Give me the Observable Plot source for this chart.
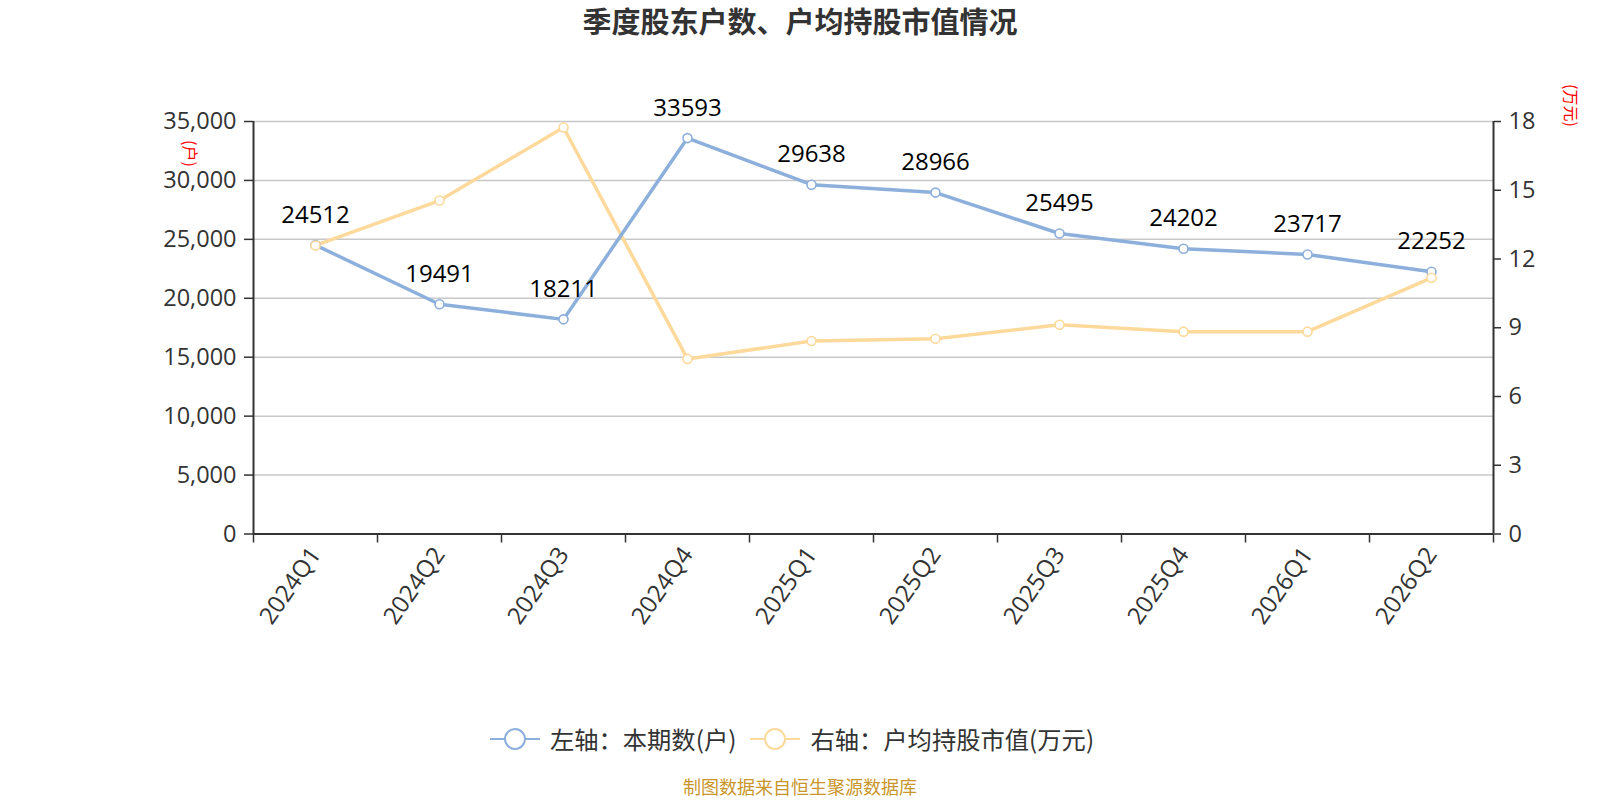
<!DOCTYPE html>
<html>
<head>
<meta charset="utf-8">
<script src="https://cdn.jsdelivr.net/npm/d3@7"></script>
<script src="https://cdn.jsdelivr.net/npm/@observablehq/plot@0.6"></script>
<style>
  html, body { margin: 0; padding: 0; background: #fff; }
  body { font-family: "Open Sans", "Noto Sans CJK SC", sans-serif; }
  #wrap { position: relative; width: 1600px; height: 800px; overflow: hidden; }
  #title { position: absolute; left: 0; width: 1600px; top: 1px; text-align: center;
           font-family: "Noto Sans CJK SC", sans-serif; font-weight: bold; font-size: 29px; color: #333; line-height: 38px; }
  #chart { position: absolute; left: 0; top: 0; }
  #legend { position: absolute; left: 0; width: 1600px; top: 721px; display: flex; justify-content: center;
            align-items: center; font-family: "Noto Sans CJK SC", sans-serif; font-size: 24.3px; color: #333; box-sizing: border-box; transform: translateX(-8px); }
  .item { display: flex; align-items: center; margin: 0 7px; }
  .item svg { margin-right: 10px; }
  #caption { position: absolute; left: 0; width: 1600px; top: 776px; text-align: center;
             font-family: "Noto Sans CJK SC", sans-serif; font-size: 18px; color: #c9962a; line-height: 20px; }
</style>
</head>
<body>
<div id="wrap">
  <div id="chart"></div>
  <div id="title"></div>
  <div id="legend"></div>
  <div id="caption"></div>
</div>
<script>
// ---- data ----
const titleText = "季度股东户数、户均持股市值情况";
const categories = ["2024Q1","2024Q2","2024Q3","2024Q4","2025Q1","2025Q2","2025Q3","2025Q4","2026Q1","2026Q2"];
const holders = [24512,19491,18211,33593,29638,28966,25495,24202,23717,22252];
const avgValue = [12.59,14.55,17.74,7.64,8.42,8.52,9.13,8.83,8.83,11.18];
const leftTicks = [0,5000,10000,15000,20000,25000,30000,35000];
const rightTicks = [0,3,6,9,12,15,18];
const seriesNames = ["左轴：本期数(户)","右轴：户均持股市值(万元)"];
const unitLeft = "(户)";
const unitRight = "(万元)";
const captionText = "制图数据来自恒生聚源数据库";

const blue = "#8dafdc";
const yellow = "#fdd99b";

const leftMax = leftTicks[leftTicks.length - 1];
const rightMax = rightTicks[rightTicks.length - 1];
const k = leftMax / rightMax;

const rows = categories.map((c, i) => ({i, cat: c, holders: holders[i], avg: avgValue[i]}));
const xDomain = [-0.5, categories.length - 0.5];
const boundaries = d3.range(categories.length + 1).map(j => j - 0.5);

const plot = Plot.plot({
  width: 1600,
  height: 660,
  marginTop: 121,
  marginBottom: 126.5,
  marginLeft: 253,
  marginRight: 107,
  style: {fontFamily: '"Open Sans", "Noto Sans CJK SC", sans-serif', background: "transparent"},
  x: {type: "linear", domain: xDomain, axis: null, label: null},
  y: {domain: [0, leftMax], axis: null, label: null},
  marks: [
    Plot.gridY(leftTicks, {stroke: "#c8c8c8", strokeOpacity: 1, strokeWidth: 1.5}),
    Plot.axisY(leftTicks, {anchor: "left", label: null, tickSize: 9, tickPadding: 8, tickFormat: d3.format(","),
      fontSize: 23.5, color: "#333", stroke: "#333", strokeWidth: 1.5}),
    Plot.axisY(rightTicks.map(v => v * k), {anchor: "right", label: null, tickSize: 7, tickPadding: 8,
      tickFormat: d => String(Math.round(d / k)), fontSize: 23.5, color: "#333", stroke: "#333", strokeWidth: 1.5}),
    Plot.axisX(boundaries, {anchor: "bottom", label: null, tickSize: 9, tickFormat: () => "", stroke: "#333", strokeWidth: 1.5}),
    Plot.axisX(d3.range(categories.length), {anchor: "bottom", label: null, tickSize: 0, tickPadding: 16, tickRotate: -55,
      tickFormat: i => categories[i], fontSize: 24, color: "#333"}),
    Plot.ruleX([xDomain[0], xDomain[1]], {stroke: "#333", strokeWidth: 2}),
    Plot.ruleY([0], {stroke: "#333", strokeWidth: 2}),
    Plot.line(rows, {x: "i", y: d => d.avg * k, stroke: yellow, strokeWidth: 3.5}),
    Plot.line(rows, {x: "i", y: "holders", stroke: blue, strokeWidth: 3.5}),
    Plot.dot(rows, {x: "i", y: "holders", r: 4.5, fill: "#fff", stroke: blue, strokeWidth: 1.6}),
    Plot.dot(rows, {x: "i", y: d => d.avg * k, r: 4.5, fill: "#fff", stroke: yellow, strokeWidth: 1.6}),
    Plot.text(rows, {x: "i", y: "holders", text: d => String(d.holders), dy: -30, fontSize: 24, fill: "#000"}),
    Plot.text([unitLeft], {frameAnchor: "top-left", dx: -64, dy: 32, rotate: 90, textAnchor: "middle",
      lineAnchor: "middle", fill: "red", fontSize: 16, fontFamily: '"Noto Sans CJK SC", sans-serif'}),
    Plot.text([unitRight], {frameAnchor: "top-right", dx: 77, dy: -16, rotate: 90, textAnchor: "middle",
      lineAnchor: "middle", fill: "red", fontSize: 16, fontFamily: '"Noto Sans CJK SC", sans-serif'})
  ]
});
document.getElementById("chart").appendChild(plot);
document.getElementById("title").textContent = titleText;
document.getElementById("caption").textContent = captionText;

const legend = document.getElementById("legend");
[blue, yellow].forEach((c, idx) => {
  const item = document.createElement("div");
  item.className = "item";
  item.innerHTML = `<svg width="50" height="26" viewBox="0 0 50 26">
    <line x1="0" y1="13" x2="50" y2="13" stroke="${c}" stroke-width="2"/>
    <circle cx="25" cy="13" r="10" fill="#fff" stroke="${c}" stroke-width="2"/></svg>`;
  const span = document.createElement("span");
  span.textContent = seriesNames[idx];
  item.appendChild(span);
  legend.appendChild(item);
});
</script>
</body>
</html>
